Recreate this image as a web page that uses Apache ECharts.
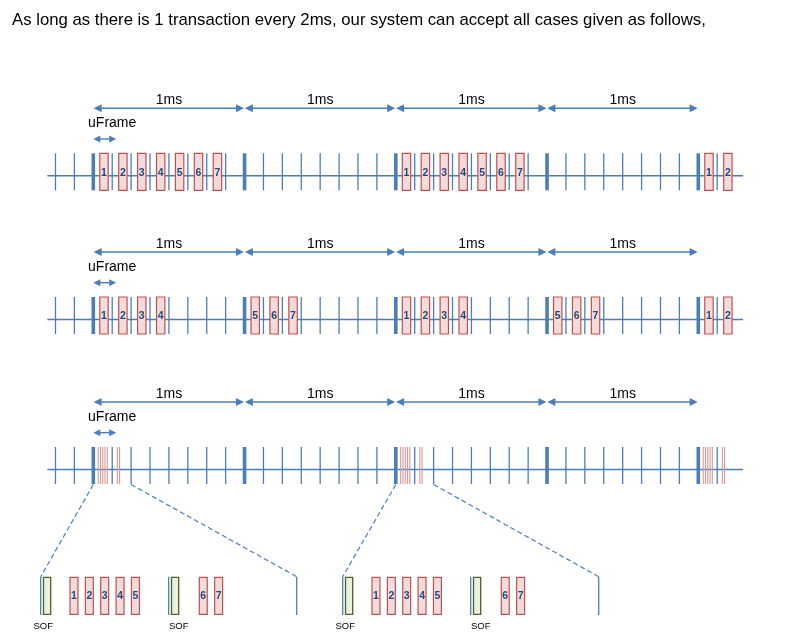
<!DOCTYPE html>
<html><head><meta charset="utf-8">
<script src="https://cdn.jsdelivr.net/npm/echarts@6/dist/echarts.min.js"></script>
<style>html,body{margin:0;padding:0;background:#fff}#c{width:812px;height:638px}</style>
</head><body><div id="c"></div>
<script>
// ================= DATA =================
const titleText = 'As long as there is 1 transaction every 2ms, our system can accept all cases given as follows,';
const msLabels = ['1ms', '1ms', '1ms', '1ms'];
const uFrameLabel = 'uFrame';
const uFramesPerMs = 8;
const msCount = 4;                 // ms intervals drawn with arrows
const tickRange = [-2, 33];        // uFrame boundaries drawn on each timeline
// transactions per ms (one per uFrame, in consecutive uFrames)
const row1Tx = [[1,2,3,4,5,6,7], [], [1,2,3,4,5,6,7], [], [1,2]];
const row2Tx = [[1,2,3,4], [5,6,7], [1,2,3,4], [5,6,7], [1,2]];
// row 3: ms carrying a burst of all transactions in their first two uFrames
const row3BurstMs = [0, 2, 4];
const zoomedMs = [0, 2];
// transactions inside a uFrame: [number, position as fraction of the uFrame]
const burstUF0 = [[1,0.26],[2,0.38],[3,0.50],[4,0.62],[5,0.74]];
const burstUF1 = [[6,0.27],[7,0.39]];
const sofFraction = 0.05;
const sofLabel = 'SOF';

// ================= LAYOUT / STYLE =================
const W = 812, H = 638;
const msStartPx = 93.3, uFramePx = 18.906;
const xMin = -msStartPx / uFramePx, xMax = (W - msStartPx) / uFramePx;
const rowTop = [153.3, 297, 447];
const tickLen = 37;
const lineStartU = -2.43, lineEndU = 34.37;
const boxCenterFrac = 0.565, boxHalfU = 0.222;
const detailZoom = 128 / uFramePx;           // magnification of zoom panels
const panelOriginU = [(40.7 - msStartPx) / uFramePx, (342.7 - msStartPx) / uFramePx];
const detailTop = 576.7, detailBottom = 615;
const detailBoxHalf = 0.031, sofBoxHalf = 0.028;
const sofLabelDx = [2.5, 10];
const sofLabelY = 626;
const blue = '#4A7EBB', redStroke = '#C0504D', redFill = '#F2DCDB';
const greenStroke = '#4F6228', greenFill = '#EBF1DE', burstRed = '#DA9694', numColor = '#1F497D';
const FF = '"Liberation Sans", Arial, sans-serif';

// fit title width
const mctx = document.createElement('canvas').getContext('2d');
mctx.font = '16px ' + FF;
const titleSize = 16 * 694 / mctx.measureText(titleText).width;

// ================= BUILD ITEMS =================
const tickItems = [];
for (let r = 0; r < 3; r++) for (let u = tickRange[0]; u <= tickRange[1]; u++) tickItems.push({u, r, thick: u % uFramesPerMs === 0});
const txItems = [];
[row1Tx, row2Tx].forEach((rowTx, r) => rowTx.forEach((list, m) => list.forEach((n, i) => txItems.push({u: m*uFramesPerMs + i + boxCenterFrac, r, n}))));
const burstItems = [];
row3BurstMs.forEach(m => {
  burstUF0.forEach(([n, f]) => burstItems.push({u: m*uFramesPerMs + f}));
  burstUF1.forEach(([n, f]) => burstItems.push({u: m*uFramesPerMs + 1 + f}));
});
const arrowItems = [];
for (let r = 0; r < 3; r++) for (let m = 0; m < msCount; m++) arrowItems.push({r, m});
const detailItems = [];
zoomedMs.forEach((m, p) => {
  const o = panelOriginU[p];
  for (let k = 0; k <= 2; k++) detailItems.push({kind: 'line', u: o + k*detailZoom});
  for (let k = 0; k < 2; k++) {
    detailItems.push({kind: 'sof', u: o + (k + sofFraction)*detailZoom});
    detailItems.push({kind: 'sofLabel', u: o + k*detailZoom, dx: sofLabelDx[k]});
  }
  burstUF0.forEach(([n, f]) => detailItems.push({kind: 'tx', u: o + f*detailZoom, n}));
  burstUF1.forEach(([n, f]) => detailItems.push({kind: 'tx', u: o + (1 + f)*detailZoom, n}));
  detailItems.push({kind: 'guide', u1: m*uFramesPerMs, u2: o});
  detailItems.push({kind: 'guide', u1: m*uFramesPerMs + 2, u2: o + 2*detailZoom});
});

function arrowShapes(x1, x2, y, L, h, lw) {
  return [
    {type: 'line', shape: {x1: x1 + L - 1, y1: y, x2: x2 - L + 1, y2: y}, style: {stroke: blue, lineWidth: lw}},
    {type: 'polygon', shape: {points: [[x1, y], [x1 + L, y - h], [x1 + L, y + h]]}, style: {fill: blue}},
    {type: 'polygon', shape: {points: [[x2, y], [x2 - L, y - h], [x2 - L, y + h]]}, style: {fill: blue}}
  ];
}
const idx = arr => arr.map((_, i) => [i]);
const base = {type: 'custom', silent: true, animation: false, clip: false};

const option = {
  animation: false,
  grid: {left: 0, right: 0, top: 0, bottom: 0},
  xAxis: {type: 'value', min: xMin, max: xMax, show: false},
  yAxis: {type: 'value', min: 0, max: H, inverse: true, show: false},
  graphic: [{type: 'text', left: 12, top: 21.5 - titleSize*0.6, style: {text: titleText, font: titleSize.toFixed(2) + 'px ' + FF, fill: '#000'}}],
  series: [
    Object.assign({}, base, {name: 'timelines', data: idx(rowTop), renderItem: (p, api) => {
      const y = rowTop[p.dataIndex] + 22.5;
      const a = api.coord([lineStartU, y]), b = api.coord([lineEndU, y]);
      return {type: 'line', shape: {x1: a[0], y1: a[1], x2: b[0], y2: b[1]}, style: {stroke: blue, lineWidth: 1.4}};
    }}),
    Object.assign({}, base, {name: 'ticks', data: idx(tickItems), renderItem: (p, api) => {
      const t = tickItems[p.dataIndex];
      const a = api.coord([t.u, rowTop[t.r]]), b = api.coord([t.u, rowTop[t.r] + tickLen]);
      return {type: 'line', shape: {x1: a[0], y1: a[1], x2: b[0], y2: b[1]}, style: {stroke: blue, lineWidth: t.thick ? 3.6 : 1.3}};
    }}),
    Object.assign({}, base, {name: 'bursts', data: idx(burstItems), renderItem: (p, api) => {
      const t = burstItems[p.dataIndex];
      const a = api.coord([t.u, rowTop[2]]), b = api.coord([t.u, rowTop[2] + tickLen]);
      return {type: 'line', shape: {x1: a[0], y1: a[1], x2: b[0], y2: b[1]}, style: {stroke: burstRed, lineWidth: 1.1}};
    }}),
    Object.assign({}, base, {name: 'transactions', data: idx(txItems), renderItem: (p, api) => {
      const t = txItems[p.dataIndex];
      const a = api.coord([t.u - boxHalfU, rowTop[t.r]]), b = api.coord([t.u + boxHalfU, rowTop[t.r] + tickLen]);
      return {type: 'group', children: [
        {type: 'rect', shape: {x: a[0], y: a[1], width: b[0] - a[0], height: b[1] - a[1]}, style: {fill: redFill, stroke: redStroke, lineWidth: 1.2}},
        {type: 'text', style: {text: String(t.n), x: (a[0] + b[0]) / 2, y: (a[1] + b[1]) / 2 + 1, align: 'center', verticalAlign: 'middle', font: 'bold 10.5px ' + FF, fill: numColor}}
      ]};
    }}),
    Object.assign({}, base, {name: 'msArrows', data: idx(arrowItems), renderItem: (p, api) => {
      const t = arrowItems[p.dataIndex];
      const y = rowTop[t.r] - 45;
      const a = api.coord([t.m * uFramesPerMs, y]), b = api.coord([(t.m + 1) * uFramesPerMs, y]);
      const kids = arrowShapes(a[0] + 0.3, b[0] - 0.6, a[1], 8, 4, 1.4);
      kids.push({type: 'text', style: {text: msLabels[t.m], x: (a[0] + b[0]) / 2, y: a[1] - 7.7, align: 'center', verticalAlign: 'middle', font: '14px ' + FF, fill: '#000'}});
      return {type: 'group', children: kids};
    }}),
    Object.assign({}, base, {name: 'uFrameMarker', data: idx(rowTop), renderItem: (p, api) => {
      const top = rowTop[p.dataIndex];
      const a = api.coord([0, top - 14.3]), b = api.coord([1, top - 14.3]);
      const kids = arrowShapes(a[0], b[0] + 4, a[1], 7, 3.5, 1.4);
      kids.push({type: 'text', style: {text: uFrameLabel, x: b[0], y: top - 29.8, align: 'center', verticalAlign: 'middle', font: '14px ' + FF, fill: '#000'}});
      return {type: 'group', children: kids};
    }}),
    Object.assign({}, base, {name: 'detail', data: idx(detailItems), renderItem: (p, api) => {
      const t = detailItems[p.dataIndex];
      if (t.kind === 'line') {
        const a = api.coord([t.u, detailTop]), b = api.coord([t.u, detailBottom]);
        return {type: 'line', shape: {x1: a[0], y1: a[1], x2: b[0], y2: b[1]}, style: {stroke: blue, lineWidth: 1.3}};
      }
      if (t.kind === 'sof' || t.kind === 'tx') {
        const h = (t.kind === 'sof' ? sofBoxHalf : detailBoxHalf) * detailZoom;
        const a = api.coord([t.u - h, detailTop + 0.6]), b = api.coord([t.u + h, detailBottom - 0.6]);
        const kids = [{type: 'rect', shape: {x: a[0], y: a[1], width: b[0] - a[0], height: b[1] - a[1]},
          style: t.kind === 'sof' ? {fill: greenFill, stroke: greenStroke, lineWidth: 1.3} : {fill: redFill, stroke: redStroke, lineWidth: 1.2}}];
        if (t.kind === 'tx') kids.push({type: 'text', style: {text: String(t.n), x: (a[0] + b[0]) / 2, y: (a[1] + b[1]) / 2, align: 'center', verticalAlign: 'middle', font: 'bold 10.5px ' + FF, fill: numColor}});
        return {type: 'group', children: kids};
      }
      if (t.kind === 'sofLabel') {
        const a = api.coord([t.u, sofLabelY]);
        return {type: 'text', style: {text: sofLabel, x: a[0] + t.dx, y: a[1], align: 'center', verticalAlign: 'middle', font: '9.5px ' + FF, fill: '#000'}};
      }
      const a = api.coord([t.u1, rowTop[2] + tickLen + 0.5]), b = api.coord([t.u2, detailTop]);
      return {type: 'line', shape: {x1: a[0], y1: a[1], x2: b[0], y2: b[1]}, style: {stroke: blue, lineWidth: 1.2, lineDash: [5, 3]}};
    }})
  ]
};
const chart = echarts.init(document.getElementById('c'), null, {renderer: 'canvas', width: W, height: H});
chart.setOption(option);
</script>
</body></html>
